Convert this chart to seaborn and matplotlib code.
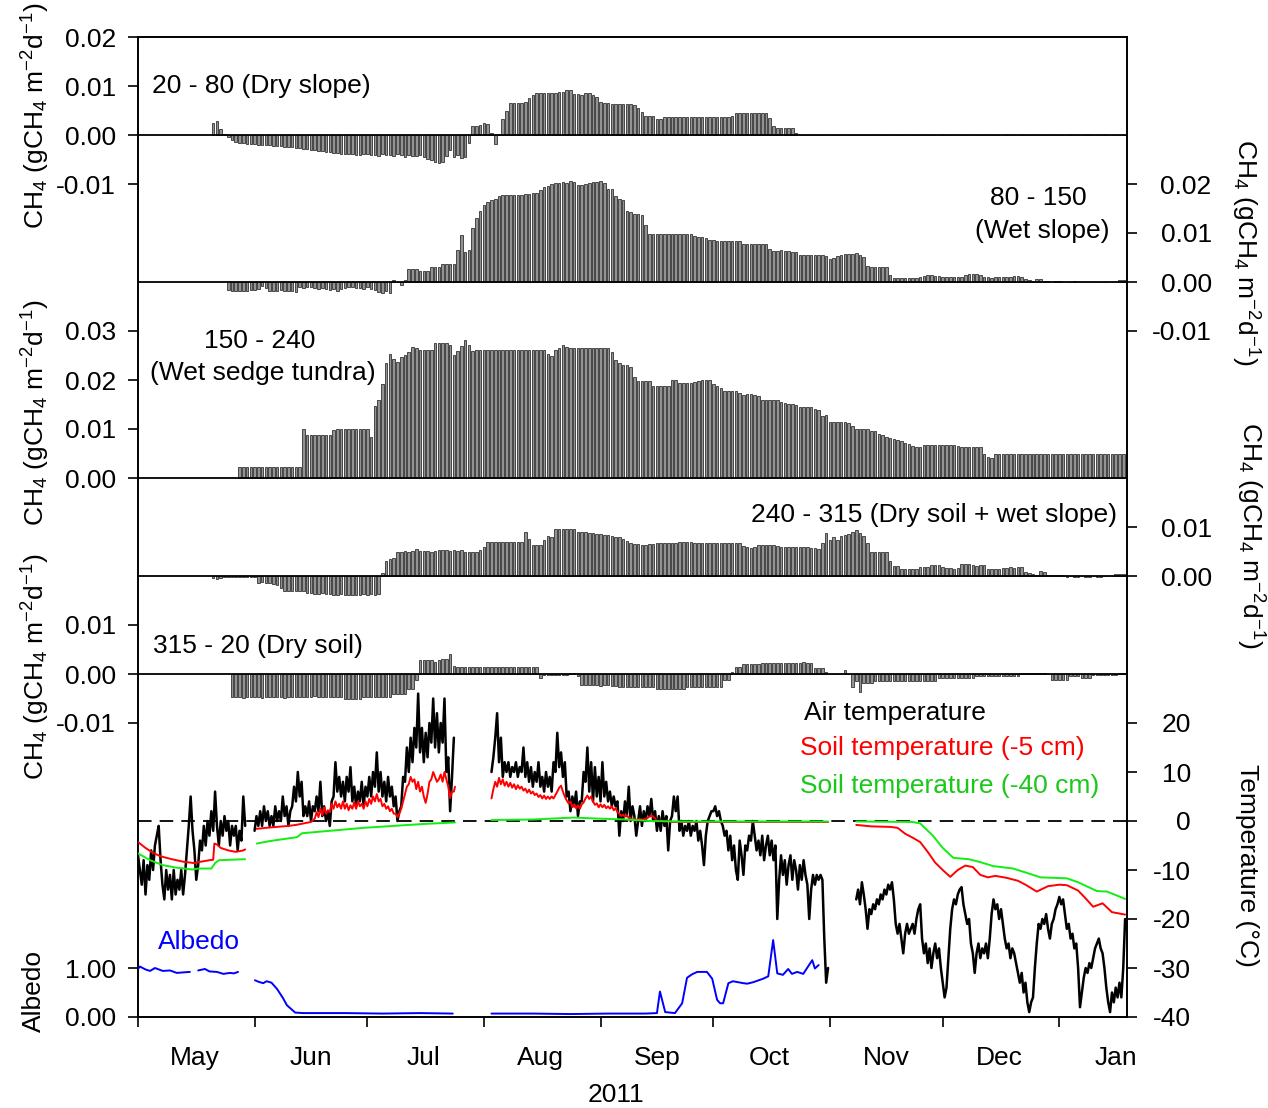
import numpy as np
import matplotlib
matplotlib.use("Agg")
import matplotlib.pyplot as plt
import matplotlib.dates as mdates
from matplotlib.ticker import FixedLocator, FormatStrFormatter, NullFormatter
import seaborn as sns

# ------------------------------------------------------------------ data
season_start = "2011-05-01"
season_end = "2012-01-19"

# Daily CH4 flux per wind sector (mg CH4 m-2 d-1); *_start = days after 1 May
dry_slope_start = 20
dry_slope = [
    2.5, 2.8, 1.2, 0.3, -0.5, -1.0, -1.5, -1.7, -1.7, -1.8,
    -1.8, -1.9, -2.0, -2.0, -2.1, -2.1, -2.2, -2.2, -2.3, -2.4,
    -2.4, -2.5, -2.6, -2.7, -2.8, -2.9, -3.0, -3.1, -3.2, -3.3,
    -3.4, -3.5, -3.6, -3.7, -3.8, -3.8, -3.9, -3.9, -4.0, -4.0,
    -3.9, -3.8, -4.1, -4.0, -4.2, -3.9, -4.1, -4.0, -4.3, -3.9,
    -4.1, -4.4, -4.0, -4.2, -4.3, -4.1, -4.5, -4.8, -5.2, -5.6,
    -5.8, -5.5, -4.2, -3.0, -4.4, -4.0, -4.6, -4.4, -1.7, 1.9,
    1.9, 2.0, 2.4, 2.2, 0.5, -1.9, 0.2, 3.2, 5.0, 6.6,
    6.6, 6.6, 6.6, 6.8, 7.5, 8.2, 8.5, 8.6, 8.6, 8.6,
    8.6, 8.6, 8.7, 8.8, 9.2, 9.1, 8.4, 8.3, 8.2, 8.6,
    8.6, 8.2, 7.7, 6.8, 6.6, 6.5, 6.3, 6.3, 6.3, 6.3,
    6.3, 6.3, 6.2, 5.6, 4.6, 3.9, 3.9, 3.9, 3.2, 3.2,
    3.7, 3.7, 3.7, 3.7, 3.7, 3.7, 3.7, 3.7, 3.7, 3.7,
    3.7, 3.7, 3.7, 3.7, 3.7, 3.7, 3.7, 3.7, 3.8, 4.4,
    4.4, 4.4, 4.4, 4.4, 4.4, 4.4, 4.4, 4.4, 3.4, 1.9,
    1.4, 1.4, 1.4, 1.4, 1.4, 0.5, 0.1, 0.1, 0.1, 0.1,
    0.1, 0.1, 0.1, 0.1, 0.1, 0.1, 0.1, 0.1, 0.1, 0.1,
    0.1, 0.1, 0.1, 0.1, 0.1, 0.1, 0.1, 0.1, 0.1, 0.1,
    0.1, 0.1, 0.1, 0.1, 0.1, 0.1, 0.1, 0.1, 0.1, 0.1,
    0.1, 0.1, 0.1, 0.1, 0.1, 0.1, 0.1, 0.1, 0.1, 0.1,
    0.1, 0.1, 0.1, 0.1, 0.1, 0.1, 0.1, 0.1, 0.1, 0.1,
    0.1, 0.1, 0.1, 0.1, 0.1, 0.1, 0.1, 0.1, 0.1, 0.1,
    0.1, 0.1, 0.1, 0.1, 0.1, 0.1, 0.1, 0.1, 0.1, 0.1,
    0.1, 0.1, 0.1, 0.1, 0.1, 0.1, 0.1, 0.1, 0.1, 0.1,
    0.1, 0.1, 0.1,
]

wet_slope_start = 24
wet_slope = [
    -1.7, -1.9, -1.9, -1.8, -1.9, -1.8, -1.7, -1.6, -1.4, -0.9,
    -1.2, -1.8, -1.8, -1.9, -1.7, -1.8, -1.9, -1.8, -2.0, -1.1,
    -1.2, -1.0, -1.1, -1.3, -1.4, -1.2, -1.5, -1.6, -1.4, -1.8,
    -1.5, -1.2, -1.1, -1.0, -1.3, -1.2, -1.5, -1.1, -1.4, -1.6,
    -2.1, -2.2, -1.9, -2.2, 0.5, 0.0, -0.6, 0.5, 2.6, 2.6,
    2.6, 2.2, 2.2, 2.2, 3.0, 3.0, 3.0, 3.7, 3.7, 3.7,
    3.7, 6.5, 9.6, 6.2, 6.5, 11.0, 13.0, 14.5, 15.8, 16.3,
    16.7, 17.0, 17.5, 17.7, 17.8, 17.8, 17.8, 17.8, 17.8, 17.9,
    18.0, 18.1, 18.2, 18.8, 19.3, 19.5, 19.9, 20.2, 20.3, 20.4,
    20.3, 20.7, 20.5, 19.8, 19.7, 20.1, 20.3, 20.4, 20.5, 20.6,
    20.2, 19.0, 19.0, 17.6, 17.0, 16.8, 14.4, 14.2, 13.8, 13.8,
    13.7, 11.6, 9.7, 9.7, 9.7, 9.7, 9.7, 9.7, 9.7, 9.7,
    9.7, 9.7, 9.7, 9.7, 9.3, 9.2, 9.1, 9.0, 8.5, 8.5,
    8.4, 8.4, 8.4, 8.4, 8.4, 8.3, 8.3, 7.7, 7.7, 7.7,
    7.7, 7.7, 7.7, 7.7, 6.7, 6.3, 6.4, 6.5, 6.4, 6.3,
    6.2, 6.1, 5.5, 5.5, 5.5, 5.5, 5.5, 5.5, 5.5, 5.4,
    4.6, 5.0, 5.3, 5.5, 5.7, 5.8, 5.8, 6.0, 5.5, 5.2,
    3.2, 3.1, 3.1, 3.0, 3.0, 3.0, 1.4, 0.8, 0.8, 0.8,
    0.8, 0.8, 0.8, 0.8, 1.1, 1.3, 1.4, 1.4, 1.3, 1.2,
    1.0, 1.0, 1.0, 1.0, 1.0, 1.0, 1.5, 1.7, 1.7, 1.6,
    1.5, 1.0, 1.0, 0.9, 1.0, 1.1, 1.1, 1.0, 1.1, 1.2,
    1.2, 1.0, 0.7, 0.4, 0.3, 0.7, 0.6, 0.3, 0.2, 0.1,
    0.2, 0.2, 0.1, 0.1, 0.1, 0.2, 0.1, 0.1, 0.1, 0.1,
    0.1, 0.1, 0.1, 0.1, 0.1, 0.1, 0.1, 0.4, 0.4,
]

sedge_start = 27
sedge = [
    2.2, 2.2, 2.2, 2.2, 2.2, 2.2, 2.2, 2.2, 2.2, 2.2,
    2.2, 2.2, 2.2, 2.2, 2.2, 2.2, 2.2, 10.1, 8.8, 8.8,
    8.8, 8.8, 8.8, 8.8, 8.8, 9.8, 10.1, 10.1, 10.1, 10.1,
    9.9, 9.9, 9.9, 9.9, 9.9, 8.3, 14.6, 15.9, 19.2, 23.5,
    25.4, 24.2, 23.7, 24.7, 25.2, 25.8, 26.7, 26.5, 26.2, 26.2,
    26.2, 26.2, 27.6, 27.6, 27.6, 27.6, 27.1, 25.1, 26.0, 27.0,
    28.2, 27.1, 26.0, 26.2, 26.2, 26.2, 26.2, 26.2, 26.2, 26.2,
    26.2, 26.2, 26.2, 26.2, 26.2, 26.2, 26.2, 26.2, 26.2, 26.2,
    26.2, 26.2, 25.4, 24.8, 26.1, 26.5, 27.1, 26.8, 26.5, 26.5,
    26.5, 26.5, 26.5, 26.5, 26.5, 26.5, 26.5, 26.5, 26.5, 25.8,
    24.0, 23.5, 23.0, 23.0, 22.7, 20.7, 19.7, 19.7, 19.7, 19.7,
    18.7, 18.7, 18.7, 18.7, 18.7, 19.9, 20.0, 19.3, 19.3, 19.3,
    19.3, 19.6, 19.8, 20.1, 20.1, 19.9, 19.2, 18.7, 18.3, 17.8,
    17.8, 17.8, 17.8, 17.3, 16.9, 17.1, 17.1, 16.9, 16.7, 16.0,
    16.0, 16.0, 16.0, 15.9, 15.6, 15.3, 15.1, 15.1, 14.8, 14.4,
    14.4, 14.4, 14.4, 14.0, 13.9, 12.7, 12.9, 11.5, 11.5, 11.5,
    11.5, 11.5, 11.3, 10.6, 10.0, 9.9, 9.9, 9.9, 9.5, 9.5,
    9.0, 8.8, 8.4, 8.2, 8.0, 7.8, 7.6, 7.2, 6.9, 6.5,
    6.4, 6.4, 6.8, 6.8, 6.8, 6.7, 6.7, 6.7, 6.7, 6.8,
    6.7, 6.5, 6.4, 6.4, 6.4, 6.4, 6.3, 6.3, 5.0, 4.2,
    4.1, 4.8, 4.8, 4.8, 4.8, 4.8, 4.8, 4.8, 4.8, 4.8,
    4.8, 4.8, 4.8, 4.8, 4.8, 4.8, 4.8, 4.8, 4.8, 4.8,
    4.8, 4.8, 4.8, 4.8, 4.8, 4.8, 4.8, 4.8, 4.8, 4.8,
    4.8, 4.8, 4.8, 4.8, 4.8, 4.8,
]

mixed_start = 20
mixed = [
    -0.5, -0.6, -0.4, -0.2, -0.2, -0.2, -0.2, -0.2, -0.2, -0.2,
    -0.2, -0.2, -1.5, -1.3, -1.5, -1.4, -1.7, -1.8, -2.5, -3.0,
    -3.0, -3.0, -3.0, -3.0, -3.0, -3.5, -3.5, -3.6, -3.6, -3.5,
    -3.6, -3.7, -3.8, -3.8, -3.7, -3.8, -3.8, -3.9, -3.8, -3.8,
    -3.7, -3.8, -3.7, -3.8, -3.7, 0.7, 3.0, 3.4, 3.7, 5.0,
    5.0, 5.1, 5.0, 5.2, 5.5, 5.1, 5.1, 5.2, 5.0, 5.1,
    5.3, 5.3, 5.4, 5.2, 5.3, 5.2, 5.3, 4.8, 4.8, 4.8,
    4.8, 5.3, 5.9, 6.9, 6.9, 6.9, 6.9, 6.9, 6.9, 6.9,
    6.9, 6.9, 6.9, 8.9, 7.5, 6.3, 6.3, 6.3, 7.3, 8.2,
    7.9, 9.5, 9.5, 9.5, 9.5, 9.5, 9.5, 9.0, 8.9, 8.9,
    8.8, 8.8, 8.6, 8.5, 8.4, 8.3, 8.2, 8.0, 7.9, 7.6,
    7.2, 6.8, 6.6, 6.5, 6.4, 6.4, 6.5, 6.6, 6.7, 6.7,
    6.7, 6.7, 6.7, 6.7, 7.0, 7.0, 7.0, 7.0, 6.7, 6.7,
    6.7, 6.7, 6.7, 6.8, 6.8, 6.8, 6.8, 6.8, 6.8, 6.8,
    6.8, 6.1, 5.9, 5.8, 5.9, 6.3, 6.4, 6.4, 6.3, 6.3,
    6.1, 6.0, 6.0, 6.0, 6.0, 6.0, 6.0, 5.9, 5.9, 5.8,
    5.7, 5.6, 6.7, 8.8, 7.3, 8.0, 7.3, 8.2, 8.4, 8.6,
    9.0, 9.3, 8.7, 8.2, 6.8, 5.0, 5.0, 4.9, 4.9, 4.9,
    3.1, 2.0, 2.0, 1.4, 1.4, 1.4, 1.4, 1.4, 1.8, 1.8,
    1.8, 2.2, 2.3, 2.2, 1.9, 1.7, 1.6, 1.5, 1.6, 2.4,
    2.5, 2.4, 2.3, 2.1, 2.2, 2.2, 1.5, 1.4, 1.4, 1.5,
    1.7, 1.7, 1.8, 1.7, 1.9, 1.8, 0.9, 0.7, 0.4, 0.3,
    1.0, 0.9, 0.3, 0.3, 0.3, 0.2, 0.2, -0.2, -0.1, -0.2,
    -0.2, 0.0, -0.2, -0.2, -0.1, -0.2, -0.2, -0.1, 0.0, 0.0,
    0.5, 0.5, 0.4,
]

dry_soil_start = 25
dry_soil = [
    -4.7, -4.6, -4.7, -4.8, -4.7, -4.7, -4.6, -4.7, -4.8, -4.7,
    -4.7, -4.6, -4.7, -4.7, -4.8, -4.7, -4.6, -4.7, -4.6, -4.6,
    -4.6, -4.6, -4.5, -4.6, -4.6, -4.6, -4.6, -4.7, -4.6, -4.6,
    -5.0, -5.0, -5.1, -5.0, -5.0, -4.7, -4.7, -4.7, -4.7, -4.7,
    -4.7, -4.7, -4.7, -4.0, -4.0, -4.0, -4.0, -3.0, -3.0, -1.2,
    2.9, 2.9, 2.9, 2.9, 2.5, 2.8, 3.0, 3.0, 4.0, 1.7,
    1.5, 1.5, 1.5, 1.5, 1.5, 1.5, 1.5, 1.5, 1.5, 1.5,
    1.5, 1.5, 1.5, 1.5, 1.5, 1.5, 1.5, 1.5, 1.5, 1.5,
    1.5, 1.5, -0.9, -0.2, -0.2, -0.2, -0.2, -0.2, -0.2, -0.2,
    0.3, 0.3, -0.5, -2.2, -2.2, -2.3, -2.2, -2.2, -2.4, -2.2,
    -2.3, -2.5, -2.4, -2.6, -2.6, -2.6, -2.6, -2.6, -2.6, -2.6,
    -2.6, -2.6, -2.6, -3.0, -3.0, -3.0, -3.0, -3.0, -3.0, -3.0,
    -3.0, -2.6, -2.6, -2.6, -2.6, -2.6, -2.6, -2.6, -2.6, -2.6,
    -2.6, -1.2, -1.2, 0.4, 1.4, 1.4, 2.0, 2.0, 2.0, 2.0,
    2.0, 2.3, 2.3, 2.3, 2.3, 2.3, 2.3, 2.3, 2.3, 2.3,
    2.3, 2.3, 2.5, 2.2, 2.2, 1.2, 1.2, 1.2, 0.5, 0.0,
    0.0, 0.0, 0.0, 0.8, 0.0, -2.6, -1.5, -3.7, -1.9, -1.9,
    -1.9, -1.4, -1.4, -1.4, -1.4, -1.4, -1.4, -1.4, -1.4, -1.4,
    -1.4, -1.4, -1.4, -1.4, -1.4, -1.4, -1.4, -1.4, -0.9, -0.9,
    -0.9, -0.9, -0.9, -0.9, -0.9, -0.9, -0.9, -0.9, -0.4, -0.4,
    -0.4, -0.4, -0.4, -0.4, -0.4, -0.4, -0.4, -0.4, -0.4, -0.4,
    0.2, 0.2, 0.2, 0.2, 0.2, 0.2, 0.2, 0.0, -1.3, -1.3,
    -1.3, -1.3, -1.3, -0.5, -0.5, -0.5, -0.9, -0.9, -0.9, -0.2,
    -0.2, -0.2, -0.2, -0.2, -0.2, -0.2, 0.3, 0.3,
]

# Air temperature (deg C), 12-hourly, in four logger periods; *_start = days after 1 May
air_step = 0.5
air_may_start = 0.0
air_may = [
    -7, -10, -13, -8, -15, -9, -12, -6, -10, -5,
    -3, -1, -8, -13, -16, -10, -14, -11, -16, -10,
    -15, -12, -14, -10, -15, -11, -6, -1, 5, -2,
    -6, -12, -9, -4, -6, -1, -5, 0, -3, 2,
    -2, 6, -1, -5, 0, -3, 1, -2, 0, -5,
    -1, -3, -1, -6, -2, -4, 5, -1,
]
air_summer_start = 31.0
air_summer = [
    -2, 1, -1, 2, -1, 3, 0, 2, -1, 1,
    -1, 3, 0, 2, 0, 5, 1, 3, -1, 2,
    3, 7, 4, 10, 5, 8, 1, 3, 1, 4,
    0, 3, 2, 5, 2, 8, 1, 3, 0, 2,
    -1, 4, 5, 12, 6, 9, 5, 8, 4, 9,
    6, 11, 4, 7, 3, 6, 4, 8, 3, 7,
    5, 9, 5, 10, 7, 14, 6, 10, 5, 8,
    4, 9, 5, 7, 3, 5, 0, 2, 3, 9,
    8, 15, 10, 17, 12, 19, 15, 26, 14, 19,
    12, 18, 13, 20, 16, 25, 15, 22, 14, 20,
    16, 25, 10, 13, 2, 9, 17,
]
air_autumn_start = 94.0
air_autumn = [
    10, 13, 17, 22, 12, 17, 9, 12, 10, 12,
    9, 11, 10, 12, 9, 11, 10, 15, 9, 12,
    8, 11, 7, 10, 8, 12, 7, 9, 6, 10,
    7, 9, 6, 12, 10, 18, 11, 14, 9, 12,
    5, 6, 2, 5, 3, 6, 1, 4, 4, 10,
    8, 15, 6, 12, 4, 11, 5, 9, 4, 12,
    5, 8, 4, 6, 3, 5, 3, 4, -3, 2,
    0, 4, 1, 7, 0, 3, 1, -3, 0, 3,
    -1, 2, 0, 3, 1, 4.5, 0, 2, -2, 1,
    -2, 2, -1, 1, -6, 0, 1, 5, 2, 5,
    -2, 0, -3, -1, -2, 0, -3, -1, -2, 0,
    -4, -2, -5, -9, -3, 0, 1, 2, 2, 3,
    1, 2, 0, -1, -3, -2, -6, -3, -8, -5,
    -10, -12, -4, -7, -11, -5, -6, -3, -4, 0,
    -3, -6, -4, -7, -3, -8, -5, -3, -7, -4,
    -8, -5, -20, -12, -7, -11, -8, -13, -9, -7,
    -12, -8, -10, -14, -9, -12, -8, -11, -13, -20,
    -14, -11, -13, -11, -12, -11, -12, -24, -33, -30,
]
air_winter_start = 191.0
air_winter = [
    -16, -14, -17, -12.5, -15, -18, -22, -18, -19, -17,
    -18, -16, -17, -15, -16, -14, -15, -13, -14, -12.5,
    -16, -21, -23, -21, -24, -27, -23, -21, -23, -22,
    -21, -23, -20, -18, -17, -24, -27, -25, -29, -26,
    -30, -27, -25, -28, -26, -30, -33, -36, -34, -28,
    -22, -18, -16, -17, -15, -14, -13.5, -17, -19, -21,
    -20, -25, -27, -31, -27, -25, -28, -26, -27, -25,
    -28, -24, -19, -16, -18, -17, -20, -18, -21, -24,
    -26, -25, -28, -26, -27, -29, -31, -33, -31, -35,
    -33, -37, -39, -37, -36, -30, -25, -21, -22, -20,
    -21, -19, -22, -24, -21, -20, -18, -17, -15.5, -17,
    -16, -19, -22, -21, -24, -23, -26, -25, -30, -38,
    -35, -32, -30, -31, -29, -30, -28, -26, -25, -24,
    -26, -27, -30, -34, -37, -39, -35, -37, -34, -36,
    -33, -36, -30, -20,
]

# Soil temperature at -5 cm (deg C); None separates logger periods
soil5_days = [
    0, 2, 4, 6, 9, 12, 15, 16, 19, 20, 20.3, 21, 22, 24, 26, 28, 28.5, None,
    31.5, 34, 37, 40, 42, 44, 46, 47, 47.5, 48, 48.5, 49, 49.5, 50, 50.5, 51,
    51.5, 52, 52.5, 53, 53.5, 54, 54.5, 55, 55.5, 56, 56.5, 57, 57.5, 58, 58.5,
    59, 59.5, 60, 60.5, 61, 61.5, 62, 62.5, 63, 63.5, 64, 64.5, 65, 65.5, 66,
    66.5, 67, 67.5, 68, 68.5, 69, 69.5, 70, 70.5, 71, 71.5, 72, 72.5, 73, 73.5,
    74, 74.5, 75, 75.5, 76, 76.5, 77, 77.5, 78, 78.5, 79, 79.5, 80, 80.5, 81,
    81.5, 82, 82.5, 83, 83.5, 84, 84.3, None,
    94, 94.5, 95, 95.5, 96, 96.5, 97, 97.5, 98, 98.5, 99, 99.5, 100, 100.5,
    101, 101.5, 102, 102.5, 103, 103.5, 104, 104.5, 105, 105.5, 106, 106.5,
    107, 107.5, 108, 108.5, 109, 109.5, 110, 110.5, 111, 111.5, 112, 112.5,
    113, 113.5, 114, 114.5, 115, 115.5, 116, 116.5, 117, 117.5, 118, 118.5,
    119, 119.5, 120, 120.5, 121, 121.5, 122, 122.5, 123, 123.5, 124, 124.5,
    125, 125.5, 126, 126.5, 127, 127.5, 128, 128.5, 129, 129.5, 130, 130.5,
    131, 131.5, 132, 132.5, 133, 134, 135, 136, 136.7, 137.5, 138, 139, 140,
    141, 142, 183.5, None,
    191, 195, 200, 202, 204, 206, 208, 210, 212, 214, 216, 218, 220, 222, 224,
    226, 228, 231, 234, 236, 239, 242, 245, 247, 250, 252, 254, 256.5, 259,
    262.5,
]
soil5_temp = [
    -4.3, -5.5, -6.5, -7.2, -7.8, -8.3, -8.6, -8.4, -8.0, -7.9, -4.6, -4.8,
    -5.5, -6.0, -6.3, -6.0, -5.8, None,
    -1.6, -1.4, -1.2, -1.0, -0.8, -0.5, -0.2, 0.5, 1.8, 0.8, 2.5, 1.2, 2.8,
    1.5, 2.2, 1.8, 3.5, 2.5, 4.0, 2.8, 3.5, 2.5, 4.0, 2.5, 3.5, 2.2, 3.2, 2.5,
    3.8, 2.5, 4.0, 3.0, 3.5, 2.5, 4.0, 3.0, 4.5, 3.5, 5.0, 4.0, 5.5, 4.0, 4.5,
    3.0, 3.5, 2.5, 3.0, 2.0, 2.5, 1.5, 1.5, 0.8, 1.5, 2.5, 4.0, 5.5, 7.0, 7.5,
    9.0, 8.0, 8.5, 6.5, 8.0, 6.0, 7.0, 5.0, 3.7, 5.5, 8.0, 8.5, 10.0, 9.0,
    8.0, 8.5, 9.5, 8.0, 10.0, 8.5, 7.0, 4.7, 6.0, 6.0, 7.0, None,
    4.6, 6.5, 8.0, 7.0, 8.8, 7.5, 8.5, 7.2, 8.0, 7.0, 7.8, 6.8, 7.5, 6.5,
    7.3, 6.6, 7.0, 6.2, 6.6, 5.8, 6.4, 5.6, 6.0, 5.3, 5.6, 4.9, 5.3, 4.6,
    5.2, 4.5, 5.0, 4.5, 5.0, 4.6, 5.3, 6.0, 6.8, 7.2, 6.0, 5.0, 4.2, 3.6,
    4.0, 2.8, 3.4, 2.6, 3.2, 2.5, 3.4, 3.8, 4.6, 5.2, 4.5, 5.0, 4.0, 3.3,
    3.6, 2.8, 3.4, 2.8, 3.3, 2.6, 3.0, 2.5, 3.0, 2.2, 2.6, 1.8, 1.5, 1.0,
    1.3, 0.9, 1.2, 0.6, 0.6, 0.2, 0.5, 0.2, 0.4, 0.3, 0.4, 0.9, 1.1, 0.5,
    0.0, 0.1, -0.1, 0.0, -0.2, -0.2, None,
    -0.8, -1.1, -1.2, -1.4, -2.6, -3.4, -4.3, -6.3, -8.5, -10.0, -11.4,
    -10.0, -9.1, -9.4, -11.0, -11.5, -11.2, -11.6, -12.2, -13.0, -14.4,
    -13.3, -13.0, -13.1, -14.2, -15.8, -17.5, -16.8, -18.6, -19.1,
]

# Soil temperature at -40 cm (deg C)
soil40_days = [
    0, 3.2, 6.6, 10, 14.5, 16, 19.5, 20.5, 21.5, 25, 28.5, None,
    31.6, 35, 42.3, 43.6, 51, 60, 76, 84.3, None,
    94, 105, 113, 116, 122, 130, 136, 145, 183.5, None,
    191, 206, 208, 211.4, 214, 216.8, 218, 221, 224, 227.4, 232.7, 236, 240,
    247, 250, 255, 257.7, 262.5,
]
soil40_temp = [
    -6.6, -8.0, -9.0, -9.5, -9.9, -9.7, -9.7, -8.6, -8.0, -7.9, -7.8, None,
    -4.6, -4.1, -3.3, -2.5, -2.0, -1.4, -0.6, -0.3, None,
    0.2, 0.3, 0.6, 0.7, 0.5, 0.3, 0.0, -0.1, -0.1, None,
    -0.1, -0.2, -0.5, -3.0, -5.5, -7.5, -7.6, -7.8, -8.4, -9.2, -9.7, -10.5,
    -11.5, -11.7, -12.5, -14.3, -14.4, -15.9,
]

# Surface albedo
albedo_days = [
    0, 0.5, 2, 3.2, 4.5, 6.6, 8.5, 10.3, 12, 13.8, None,
    16, 17.8, 19, 21, 22.7, 24.5, 25.5, 26.6, None,
    31.1, 32, 33.3, 34.2, 35.5, 37, 38.6, 39.6, 41.8, 44, 55, 65, 75, 83.7, None,
    94, 105, 115, 125, 135, 138, 138.8, 140.2, 142.8, 144.7, 146, 147.3, 148.7,
    151.3, 152.7, 154, 154.8, 155.6, 157, 158.2, 161, 162, 163.6, 166.2, 167.6,
    168.9, 170, 171.5, 172.9, 173.9, 175.3, 176.9, 179.3, 180, 181,
]
albedo = [
    0.98, 1.03, 0.97, 0.94, 1.0, 0.94, 0.95, 0.90, 0.91, 0.92, None,
    0.95, 0.98, 0.93, 0.92, 0.88, 0.90, 0.89, 0.92, None,
    0.75, 0.72, 0.69, 0.73, 0.70, 0.57, 0.38, 0.24, 0.09, 0.08, 0.08, 0.07,
    0.08, 0.07, None,
    0.07, 0.07, 0.06, 0.07, 0.07, 0.08, 0.52, 0.10, 0.08, 0.28, 0.80, 0.87,
    0.92, 0.92, 0.78, 0.35, 0.28, 0.28, 0.69, 0.73, 0.69, 0.68, 0.71, 0.78,
    0.83, 1.57, 0.89, 0.86, 0.98, 0.88, 0.92, 0.88, 1.16, 0.99, 1.06,
]

flux_ticks_1 = [0.02, 0.01, 0.00, -0.01]
flux_ticks_2 = [0.02, 0.01, 0.00, -0.01]
flux_ticks_3 = [0.00, 0.01, 0.02, 0.03]
flux_ticks_4 = [0.00, 0.01]
flux_ticks_5 = [-0.01, 0.00, 0.01]
temp_ticks = [20, 10, 0, -10, -20, -30, -40]
albedo_ticks = [0.0, 1.0]

# ------------------------------------------------------------------ style
sns.set_theme(style="ticks", rc={
    "axes.edgecolor": "black", "axes.labelcolor": "black", "text.color": "black",
    "xtick.color": "black", "ytick.color": "black",
})
plt.rcParams["font.family"] = ["Liberation Sans", "DejaVu Sans"]
plt.rcParams["mathtext.fontset"] = "custom"
plt.rcParams["mathtext.rm"] = "Liberation Sans"
plt.rcParams["mathtext.it"] = "Liberation Sans:italic"
plt.rcParams["axes.unicode_minus"] = False

FS = 19
W, H = 1268, 1108
L, R, T, B = 138, 1127, 37, 1017

base = mdates.datestr2num(season_start)
xmax = mdates.datestr2num(season_end)

fig = plt.figure(figsize=(W / 100, H / 100), dpi=100)
ax = fig.add_axes([L / W, 1 - B / H, (R - L) / W, (B - T) / H])


def px(x, y):
    return x / W, 1 - y / H


def make_twin(side):
    a = ax.twinx()
    for s in a.spines.values():
        s.set_visible(False)
    if side == "left":
        a.yaxis.tick_left()
        a.yaxis.set_label_position("left")
        a.tick_params(axis="y", left=True, right=False, labelleft=True, labelright=False)
    else:
        a.tick_params(axis="y", left=False, right=True, labelleft=False, labelright=True)
    return a


ax2 = make_twin("right")
ax3 = make_twin("left")
ax4 = make_twin("right")
ax5 = make_twin("left")
axT = make_twin("right")
axA = make_twin("left")


def draw_flux(a, start, values):
    x = base + start + np.arange(len(values))
    a.bar(x, np.asarray(values) / 1000.0, width=0.68, color="#939393",
          edgecolor="black", linewidth=0.45, zorder=2)
    a.axhline(0, color="black", lw=1.3, zorder=3)


draw_flux(ax, dry_slope_start, dry_slope)
draw_flux(ax2, wet_slope_start, wet_slope)
draw_flux(ax3, sedge_start, sedge)
draw_flux(ax4, mixed_start, mixed)
draw_flux(ax5, dry_soil_start, dry_soil)


def split_periods(days, values):
    segs, cd, cv = [], [], []
    for d, v in zip(days, values):
        if d is None:
            segs.append((cd, cv))
            cd, cv = [], []
        else:
            cd.append(d)
            cv.append(v)
    if cd:
        segs.append((cd, cv))
    return segs


for start, vals in ((air_may_start, air_may), (air_summer_start, air_summer),
                    (air_autumn_start, air_autumn), (air_winter_start, air_winter)):
    x = base + start + air_step * np.arange(len(vals))
    sns.lineplot(x=x, y=np.asarray(vals, float), ax=axT, color="black",
                 linewidth=1.8, errorbar=None, legend=False)

for d, v in split_periods(soil5_days, soil5_temp):
    sns.lineplot(x=base + np.asarray(d), y=np.asarray(v, float), ax=axT,
                 color="#ff0000", linewidth=1.4, errorbar=None, legend=False)
for d, v in split_periods(soil40_days, soil40_temp):
    sns.lineplot(x=base + np.asarray(d), y=np.asarray(v, float), ax=axT,
                 color="#11ee11", linewidth=1.4, errorbar=None, legend=False)
axT.axhline(0, color="black", lw=1.3, dashes=(7.5, 4.5), zorder=1)

for d, v in split_periods(albedo_days, albedo):
    sns.lineplot(x=base + np.asarray(d), y=np.asarray(v, float), ax=axA,
                 color="#0000ff", linewidth=1.4, errorbar=None, legend=False)

# ------------------------------------------------------------------ axes
axis_setup = [
    (ax, (-0.18, 0.02), flux_ticks_1, "%.2f"),
    (ax2, (-0.15, 0.05), flux_ticks_2, "%.2f"),
    (ax3, (-0.11, 0.09), flux_ticks_3, "%.2f"),
    (ax4, (-0.09, 0.11), flux_ticks_4, "%.2f"),
    (ax5, (-0.07, 0.13), flux_ticks_5, "%.2f"),
    (axT, (-40, 160), temp_ticks, "%d"),
    (axA, (0, 20), albedo_ticks, "%.2f"),
]
for a, lim, ticks, fmt in axis_setup:
    a.set_ylim(*lim)
    a.yaxis.set_major_locator(FixedLocator(ticks))
    a.yaxis.set_major_formatter(FormatStrFormatter(fmt))
    a.yaxis.set_minor_locator(FixedLocator([]))
    a.tick_params(axis="y", direction="out", length=7, width=1.2, labelsize=FS, pad=9)
    a.set_xlabel("")
    a.set_ylabel("")

ax.tick_params(axis="y", left=True, right=False, labelleft=True, labelright=False)

for a, pad in ((ax2, 54), (ax4, 54), (axT, 39)):
    a.tick_params(axis="y", pad=pad)
    for lab in a.get_yticklabels():
        lab.set_horizontalalignment("right")

for s in ax.spines.values():
    s.set_linewidth(1.4)
    s.set_color("black")

ax.set_xlim(base, xmax)
ax.xaxis.set_major_locator(mdates.MonthLocator())
ax.xaxis.set_major_formatter(NullFormatter())
ax.xaxis.set_minor_locator(mdates.MonthLocator(bymonthday=16))
ax.xaxis.set_minor_formatter(mdates.DateFormatter("%b"))
ax.tick_params(axis="x", which="major", direction="out", length=7, width=1.2,
               top=False, bottom=True)
ax.tick_params(axis="x", which="minor", length=0, pad=21, labelsize=FS,
               top=False, bottom=True)

# ------------------------------------------------------------------ labels
ch4_label = r"CH$_4$ (gCH$_4$ m$^{-2}$d$^{-1}$)"
for (x, y) in ((36, 116), (36, 413), (36, 667)):
    fig.text(*px(x, y), ch4_label, rotation=90, ha="center", va="center", fontsize=FS)
for (x, y) in ((1245, 252), (1250, 535)):
    fig.text(*px(x, y), ch4_label, rotation=270, ha="center", va="center", fontsize=FS)
fig.text(*px(1247, 865), "Temperature (\u00b0C)", rotation=270, ha="center",
         va="center", fontsize=FS)
fig.text(*px(34, 991), "Albedo", rotation=90, ha="center", va="center", fontsize=FS)
fig.text(*px(616, 1095), "2011", ha="center", va="center", fontsize=FS)

fig.text(*px(152, 93), "20 - 80 (Dry slope)", ha="left", va="baseline", fontsize=FS)
fig.text(*px(1038, 205), "80 - 150", ha="center", va="baseline", fontsize=FS)
fig.text(*px(1042, 238), "(Wet slope)", ha="center", va="baseline", fontsize=FS)
fig.text(*px(260, 348), "150 - 240", ha="center", va="baseline", fontsize=FS)
fig.text(*px(263, 380), "(Wet sedge tundra)", ha="center", va="baseline", fontsize=FS)
fig.text(*px(1117, 522), "240 - 315 (Dry soil + wet slope)", ha="right",
         va="baseline", fontsize=FS)
fig.text(*px(153, 653), "315 - 20 (Dry soil)", ha="left", va="baseline", fontsize=FS)
fig.text(*px(804, 720), "Air temperature", ha="left", va="baseline", fontsize=FS)
fig.text(*px(800, 755), "Soil temperature (-5 cm)", ha="left", va="baseline",
         fontsize=FS, color="#ff0000")
fig.text(*px(800, 793), "Soil temperature (-40 cm)", ha="left", va="baseline",
         fontsize=FS, color="#19c819")
fig.text(*px(158, 949), "Albedo", ha="left", va="baseline", fontsize=FS,
         color="#0000ff")

fig.savefig("out.png", dpi=100)
